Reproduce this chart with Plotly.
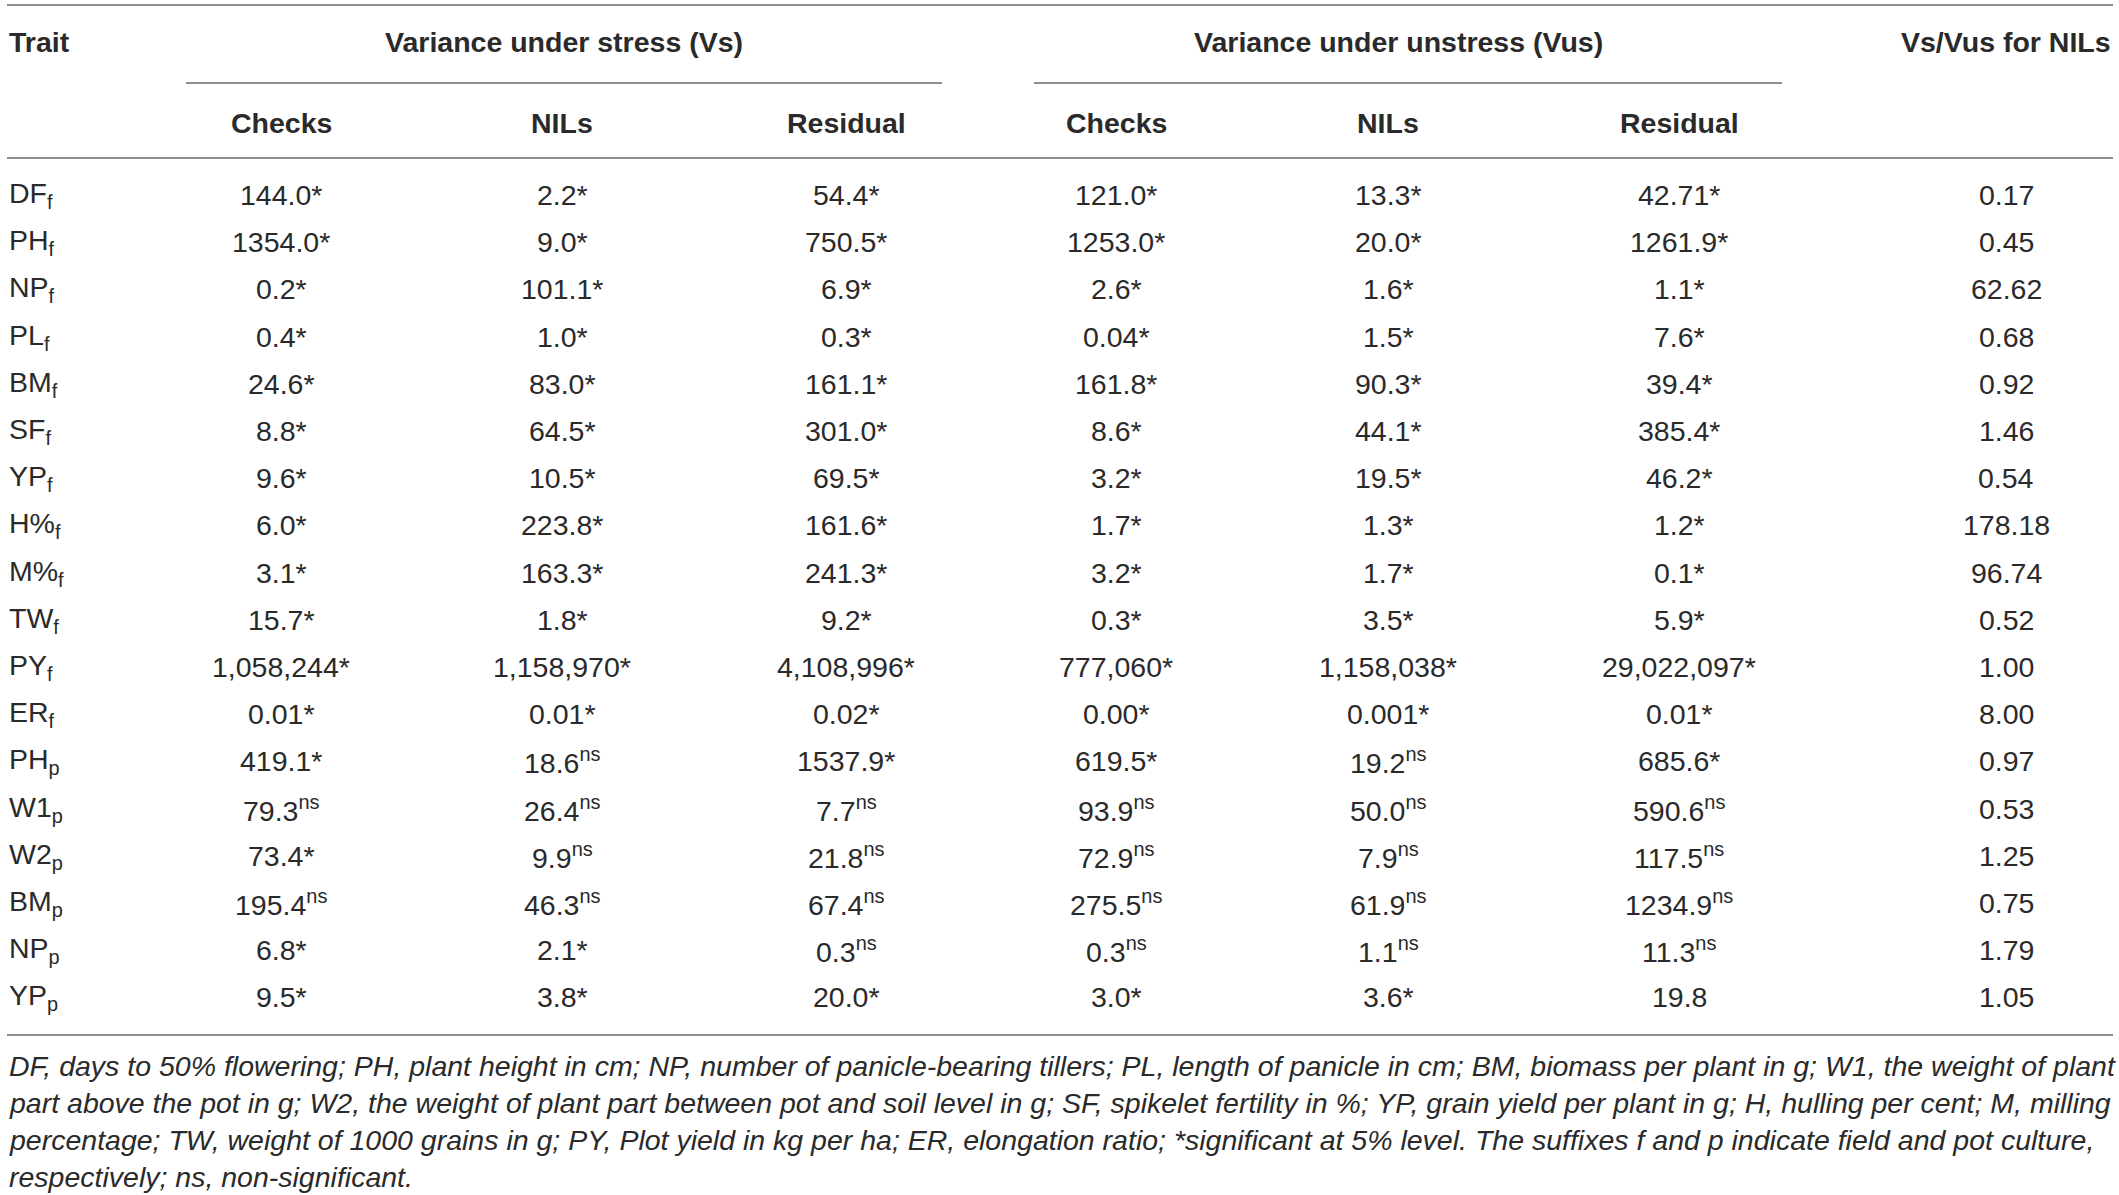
import plotly.graph_objects as go

# table contents
trait_base = ["DF", "PH", "NP", "PL", "BM", "SF", "YP", "H%", "M%", "TW", "PY", "ER",
              "PH", "W1", "W2", "BM", "NP", "YP"]
trait_sub = ["f"] * 12 + ["p"] * 6

checks_s = ["144.0*", "1354.0*", "0.2*", "0.4*", "24.6*", "8.8*", "9.6*", "6.0*", "3.1*",
            "15.7*", "1,058,244*", "0.01*", "419.1*", "79.3ns", "73.4*", "195.4ns", "6.8*", "9.5*"]
nils_s = ["2.2*", "9.0*", "101.1*", "1.0*", "83.0*", "64.5*", "10.5*", "223.8*", "163.3*",
          "1.8*", "1,158,970*", "0.01*", "18.6ns", "26.4ns", "9.9ns", "46.3ns", "2.1*", "3.8*"]
resid_s = ["54.4*", "750.5*", "6.9*", "0.3*", "161.1*", "301.0*", "69.5*", "161.6*", "241.3*",
           "9.2*", "4,108,996*", "0.02*", "1537.9*", "7.7ns", "21.8ns", "67.4ns", "0.3ns", "20.0*"]
checks_u = ["121.0*", "1253.0*", "2.6*", "0.04*", "161.8*", "8.6*", "3.2*", "1.7*", "3.2*",
            "0.3*", "777,060*", "0.00*", "619.5*", "93.9ns", "72.9ns", "275.5ns", "0.3ns", "3.0*"]
nils_u = ["13.3*", "20.0*", "1.6*", "1.5*", "90.3*", "44.1*", "19.5*", "1.3*", "1.7*",
          "3.5*", "1,158,038*", "0.001*", "19.2ns", "50.0ns", "7.9ns", "61.9ns", "1.1ns", "3.6*"]
resid_u = ["42.71*", "1261.9*", "1.1*", "7.6*", "39.4*", "385.4*", "46.2*", "1.2*", "0.1*",
           "5.9*", "29,022,097*", "0.01*", "685.6*", "590.6ns", "117.5ns", "1234.9ns", "11.3ns", "19.8"]
ratio = ["0.17", "0.45", "62.62", "0.68", "0.92", "1.46", "0.54", "178.18", "96.74",
         "0.52", "1.00", "8.00", "0.97", "0.53", "1.25", "0.75", "1.79", "1.05"]

sub_headers = ["Checks", "NILs", "Residual", "Checks", "NILs", "Residual"]
group_headers = ["Variance under stress (Vs)", "Variance under unstress (Vus)"]

footnote = [
    "DF, days to 50% flowering; PH, plant height in cm; NP, number of panicle-bearing tillers; "
    "PL, length of panicle in cm; BM, biomass per plant in g; W1, the weight of plant",
    "part above the pot in g; W2, the weight of plant part between pot and soil level in g; "
    "SF, spikelet fertility in %; YP, grain yield per plant in g; H, hulling per cent; M, milling",
    "percentage; TW, weight of 1000 grains in g; PY, Plot yield in kg per ha; ER, elongation ratio; "
    "*significant at 5% level. The suffixes f and p indicate field and pot culture,",
    "respectively; ns, non-significant.",
]

W, H = 2119, 1195
FONT = "Liberation Sans"
TXT = "#2a2a2a"
LINE = "#8f8f8f"
FS = 28.5

col_x = [281, 562, 846, 1116, 1388, 1679, 2006]
row_y0, row_dy = 195, 47.2


def fmt(v):
    # "ns" is set as superscript, the asterisk glyph already sits high
    if v.endswith("ns"):
        return v[:-2] + "<sup>ns</sup>"
    return v


fig = go.Figure()
fig.add_trace(go.Scatter(x=[0, W], y=[0, H], mode="markers",
                         marker=dict(opacity=0), hoverinfo="skip", showlegend=False))

ann = []


def add(x, y, text, xanchor="center", bold=False, italic=False, size=FS):
    t = text
    if bold:
        t = "<b>" + t + "</b>"
    if italic:
        t = "<i>" + t + "</i>"
    ann.append(dict(x=x, y=y, xref="x", yref="y", text=t, showarrow=False,
                    xanchor=xanchor, yanchor="middle",
                    font=dict(family=FONT, size=size, color=TXT)))


# header
add(7, 42, "Trait", xanchor="left", bold=True)
add(564, 42, group_headers[0], bold=True)
add(1398, 42, group_headers[1], bold=True)
add(2006, 42, "Vs/Vus for NILs", bold=True)
for x, h in zip(col_x[:6], sub_headers):
    add(x, 123, h, bold=True)

# body
columns = [checks_s, nils_s, resid_s, checks_u, nils_u, resid_u, ratio]
for i, (b, s) in enumerate(zip(trait_base, trait_sub)):
    y = row_y0 + i * row_dy
    add(7, y, b + "<sub>" + s + "</sub>", xanchor="left")
    for x, col in zip(col_x, columns):
        add(x, y, fmt(col[i]))

# footnote
for j, line in enumerate(footnote):
    add(7, 1066 + j * 37, line, xanchor="left", italic=True)

shapes = []
for x0, x1, y in [(7, 2113, 5), (186, 942, 83), (1034, 1782, 83), (7, 2113, 158), (7, 2113, 1035)]:
    shapes.append(dict(type="line", xref="x", yref="y", x0=x0, x1=x1, y0=y, y1=y,
                       line=dict(color=LINE, width=2)))

fig.update_layout(
    width=W, height=H,
    margin=dict(l=0, r=0, t=0, b=0),
    paper_bgcolor="white", plot_bgcolor="white",
    xaxis=dict(range=[0, W], visible=False, fixedrange=True),
    yaxis=dict(range=[H, 0], visible=False, fixedrange=True),
    annotations=ann, shapes=shapes,
)

fig.write_html("out.html", config={"displayModeBar": False},
               post_script="document.body.style.margin='0';document.body.style.overflow='hidden';")
